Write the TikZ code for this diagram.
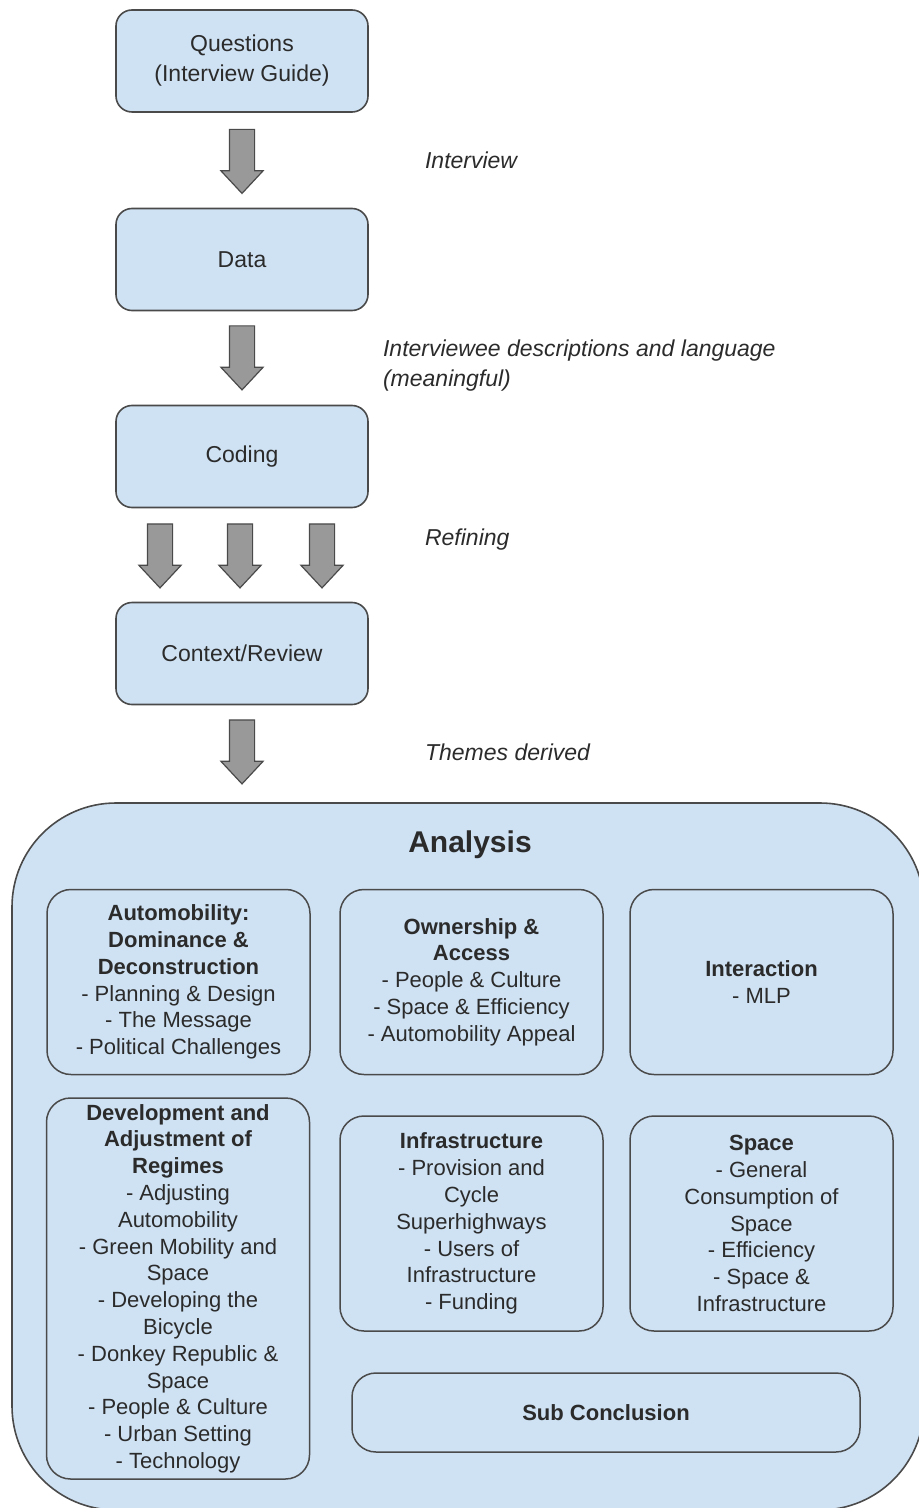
\documentclass[tikz,border=0pt]{standalone}
\usepackage{fontspec}
\setmainfont{Liberation Sans}
\usepackage{tikz}
\usetikzlibrary{calc}
\usetikzlibrary{shapes.arrows}

\definecolor{boxblue}{HTML}{CFE2F3}
\definecolor{boxline}{HTML}{4A4A4A}
\definecolor{arrowgrey}{HTML}{999999}
\definecolor{textgrey}{HTML}{2B2B2B}

\begin{document}
\begin{tikzpicture}[x=0.5pt, y=-0.5pt,
      stage/.style={draw=boxline, line width=0.8pt, fill=boxblue, rounded corners=8pt, minimum width=126pt, minimum height=51pt, align=center, text=textgrey, font=\fontsize{11.5}{15}\selectfont},
      theme/.style={draw=boxline, line width=0.75pt, fill=boxblue, rounded corners=12pt, minimum width=131.5pt, align=center, inner sep=2pt, text=textgrey, font=\fontsize{11}{13.4}\selectfont},
      downarrow/.style={single arrow, rotate=-90, anchor=tail, draw=boxline, line width=0.6pt, fill=arrowgrey, minimum height=32pt, inner xsep=0pt, inner ysep=6pt, single arrow head extend=4.25pt, single arrow tip angle=86},
      remark/.style={anchor=west, align=left, text=textgrey, font=\fontsize{11.5}{15}\selectfont\itshape}]
      \useasboundingbox (0, 0) rectangle (918, 1508);
      \node[stage] (questions) at (242, 61) {Questions\\(Interview Guide)};
      \node[stage] (data) at (242, 259.5) {Data};
      \node[stage] (coding) at (242, 456.5) {Coding};
      \node[stage] (context) at (242, 653.5) {Context/Review};
      \node[downarrow] (arr1) at ($(questions.south)+(0,16)$) {};
      \node[downarrow] (arr2) at ($(data.south)+(0,14)$) {};
      \node[downarrow] (arr3a) at ($(coding.south)+(-82,15)$) {};
      \node[downarrow] (arr3b) at ($(coding.south)+(-2,15)$) {};
      \node[downarrow] (arr3c) at ($(coding.south)+(80,15)$) {};
      \node[downarrow] (arr4) at ($(context.south)+(0,14)$) {};
      \node[remark] (interview) at (418, 160) {Interview};
      \node[remark] (descr) at (376, 366) {Interviewee descriptions and language\\(meaningful)};
      \node[remark] (refining) at (418, 540) {Refining};
      \node[remark] (themes) at (418, 752) {Themes derived};
      \node[draw=boxline, line width=0.8pt, fill=boxblue, rounded corners=52pt, minimum width=456pt, minimum height=353.5pt] (analysis) at (468, 1156.5) {};
      \node[text=textgrey, font=\fontsize{15}{18}\selectfont\bfseries] (title) at (470, 845) {Analysis};
      \node[theme, minimum height=92.5pt] (automob) at (178.5, 982) {\textbf{Automobility:}\\\textbf{Dominance \&}\\\textbf{Deconstruction}\\- Planning \& Design\\- The Message\\- Political Challenges};
      \node[theme, minimum height=92.5pt] (owner) at (471.5, 982) {\textbf{Ownership \&}\\\textbf{Access}\\- People \& Culture\\- Space \& Efficiency\\- Automobility Appeal};
      \node[theme, minimum height=92.5pt] (interact) at (761.5, 982) {\textbf{Interaction}\\- MLP};
      \node[theme, minimum height=190.5pt] (develop) at (178, 1288.5) {\textbf{Development and}\\\textbf{Adjustment of}\\\textbf{Regimes}\\- Adjusting\\Automobility\\- Green Mobility and\\Space\\- Developing the\\Bicycle\\- Donkey Republic \&\\Space\\- People \& Culture\\- Urban Setting\\- Technology};
      \node[theme, minimum height=107.5pt] (infra) at (471.5, 1223.5) {\textbf{Infrastructure}\\- Provision and\\Cycle\\Superhighways\\- Users of\\Infrastructure\\- Funding};
      \node[theme, minimum height=107.5pt] (space) at (761.5, 1223.5) {\textbf{Space}\\- General\\Consumption of\\Space\\- Efficiency\\- Space \&\\Infrastructure};
      \node[theme, minimum width=254pt, minimum height=39.5pt] (subconc) at (606, 1412.5) {\textbf{Sub Conclusion}};
  \end{tikzpicture}
\end{document}
